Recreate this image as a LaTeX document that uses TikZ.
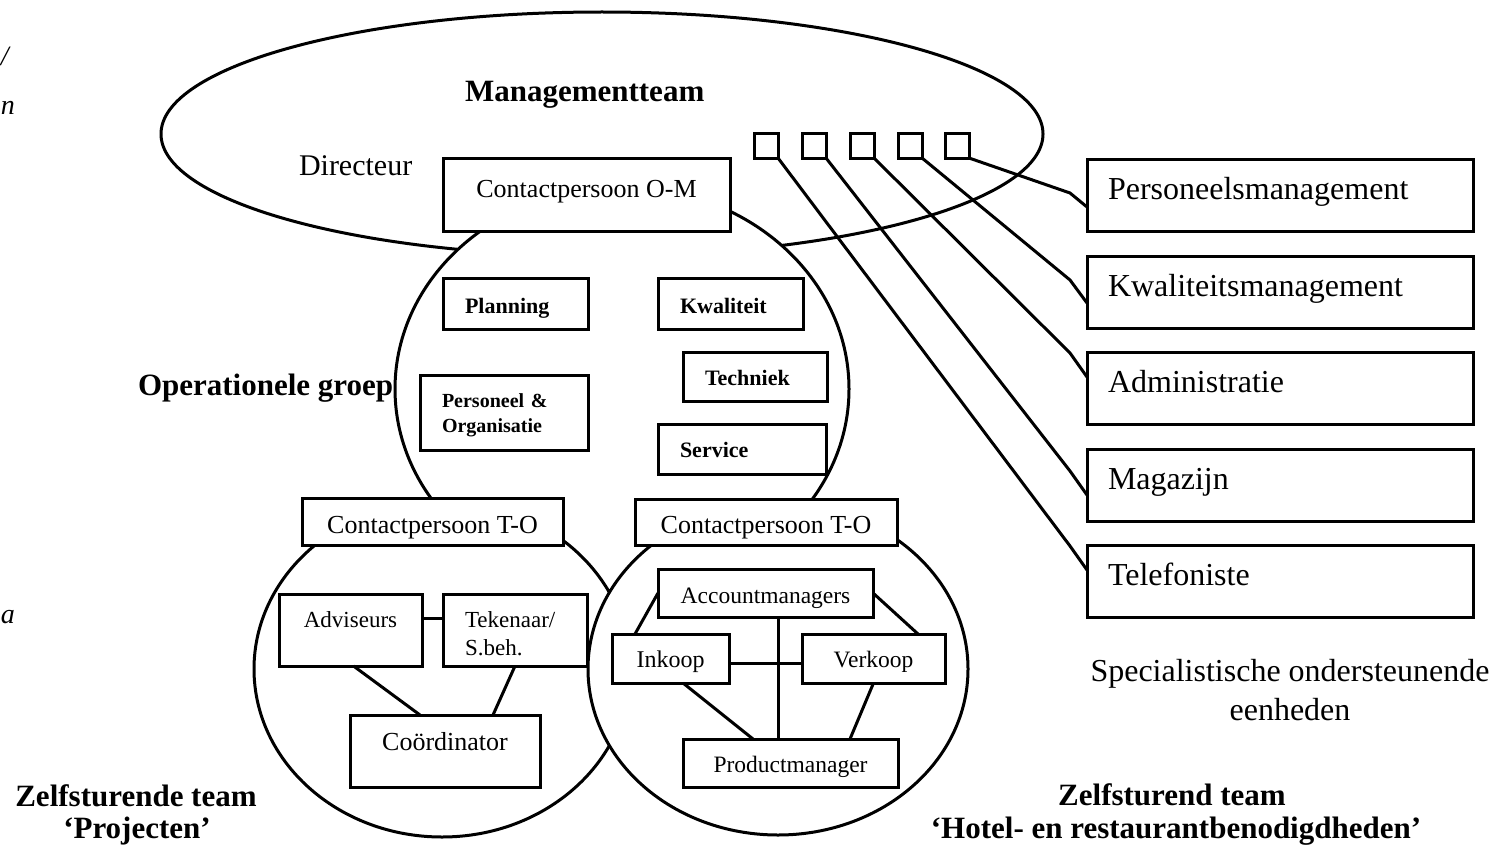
\documentclass[tikz,border=0pt]{standalone}
\usepackage{fontspec}
\setmainfont{Liberation Serif}
\usetikzlibrary{calc,shapes.geometric}

% type sizes used in the chart
\newcommand\sizeunit{\fontsize{32}{38}\selectfont}
\newcommand\sizetitle{\fontsize{31}{36}\selectfont\bfseries}
\newcommand\sizecontact{\fontsize{26}{31}\selectfont}
\newcommand\sizemember{\fontsize{23.5}{28}\selectfont}
\newcommand\sizefunc{\fontsize{22}{26}\selectfont\bfseries}

\begin{document}
\begin{tikzpicture}[x=1pt,y=-1pt,
  every node/.style={inner sep=0pt, outer sep=0pt},
  unit/.style={draw, fill=white, rectangle, line width=3pt},
  oval/.style={draw, fill=white, ellipse, line width=3pt},
  link/.style={line width=3pt, line join=round},
  tick/.style={unit, minimum width=24pt, minimum height=25pt},
  side/.style={unit, font=\sizeunit, minimum width=386pt, minimum height=72pt,
    text width=344pt, inner xsep=21pt, align=left, text height=40pt, text depth=32pt},
  func/.style={unit, font=\sizefunc, inner xsep=22pt, align=left},
  member/.style={unit, font=\sizemember},
  contact/.style={unit, font=\sizecontact},
  title/.style={font=\sizetitle},
  caption/.style={font=\sizeunit},
  frag/.style={font=\fontsize{28}{34}\selectfont\itshape},
]
\fill[white] (0,0) rectangle (1495,848);
\useasboundingbox (0,0) rectangle (1495,848);

% the four groups
\node[oval, minimum width=882pt, minimum height=244pt] (mt) at (602,134) {};
\node[oval, minimum width=454pt, minimum height=404pt] (og) at (622,389) {};
\node[oval, minimum width=376pt, minimum height=336pt] (zp) at (442,669) {};
\node[oval, minimum width=380pt, minimum height=332pt] (zh) at (778,669) {};

% management team
\node[title, anchor=base west] (mtt) at (465,102) {Managementteam};
\node[caption, font=\fontsize{30}{36}\selectfont, anchor=base west] (dir) at (299,175) {Directeur};
\node[contact, minimum width=287pt, minimum height=73pt, text height=39pt, text depth=34pt] (om) at (586.5,194.5) {Contactpersoon O-M};
\foreach \i/\x in {1/766,2/814,3/862,4/910,5/957}
  \node[tick] (s\i) at (\x,145.5) {};

% operational group
\node[func, text width=101pt, minimum height=51pt, text height=35pt, text depth=16pt] (pla) at (515.5,303.5) {Planning};
\node[func, text width=101pt, minimum height=51pt, text height=35pt, text depth=16pt] (kwl) at (730.5,303.5) {Kwaliteit};
\node[func, text width=100pt, minimum height=49pt, text height=33pt, text depth=16pt] (tec) at (755,376.5) {Techniek};
\node[func, font=\fontsize{20}{25}\selectfont\bfseries, text width=124pt, minimum height=75pt, text height=32pt, text depth=43pt] (peo) at (504,412.5) {Personeel \&\\Organisatie};
\node[func, text width=124pt, minimum height=50pt, text height=33pt, text depth=17pt] (ser) at (742,449) {Service};

% team Projecten
\node[contact, minimum width=261pt, minimum height=47pt, text height=35pt, text depth=12pt] (tol) at (432.5,521.5) {Contactpersoon T-O};
\node[member, font=\fontsize{23}{28}\selectfont, minimum width=143pt, minimum height=72pt, text height=33pt, text depth=39pt] (adv) at (350.5,630) {Adviseurs};
\node[member, font=\fontsize{23}{28}\selectfont, text width=100pt, inner xsep=22pt, align=left, minimum height=72pt, text height=33pt, text depth=39pt] (tek) at (515,630) {Tekenaar/\\S.beh.};
\node[contact, minimum width=190pt, minimum height=72pt, text height=35pt, text depth=37pt] (crd) at (445,751) {Coördinator};

% team Hotel- en restaurantbenodigdheden
\node[contact, minimum width=262pt, minimum height=46pt, text height=34pt, text depth=12pt] (tor) at (766,522) {Contactpersoon T-O};
\node[member, minimum width=215pt, minimum height=48pt, text height=34pt, text depth=14pt] (acc) at (765.5,593) {Accountmanagers};
\node[member, font=\fontsize{24}{28}\selectfont, minimum width=117pt, minimum height=49pt, text height=33pt, text depth=16pt] (ink) at (670.5,658.5) {Inkoop};
\node[member, minimum width=143pt, minimum height=49pt, text height=33pt, text depth=16pt] (ver) at (873.5,658.5) {Verkoop};
\node[member, minimum width=215pt, minimum height=48pt, text height=33pt, text depth=15pt] (prd) at (790.5,763) {Productmanager};

% supporting units
\node[side] (per) at (1280,195) {Personeelsmanagement};
\node[side] (kwm) at (1280,292) {Kwaliteitsmanagement};
\node[side] (adm) at (1280,388.5) {Administratie};
\node[side] (mag) at (1280,485) {Magazijn};
\node[side] (tel) at (1280,581.5) {Telefoniste};

% links inside the teams
\draw[link] ($(adv.east)+(0,-12)$) -- ($(tek.west)+(0,-12)$);
\draw[link] ($(adv.south)+(3,0)$) -- ($(crd.north)+(-25,0)$);
\draw[link] (tek.south) -- ($(crd.north)+(48,0)$);
\draw[link] ($(acc.south)+(12.5,0)$) -- ($(prd.north)+(-12.5,0)$);
\draw[link] ($(ink.east)+(0,4.5)$) -- ($(ver.west)+(0,4.5)$);
\draw[link] (acc.west) -- ($(ink.north)+(-35.5,0)$);
\draw[link] (acc.east) -- ($(ver.north)+(44.5,0)$);
\draw[link] ($(ink.south)+(12.5,0)$) -- ($(prd.north)+(-37.5,0)$);
\draw[link] (ver.south) -- ($(prd.north)+(59.5,0)$);

% management seats to the supporting units
\draw[link] (s5.south east) -- ($(per.west)+(-17,-2)$) -- ($(per.west)+(0,12)$);
\draw[link] (s4.south east) -- ($(kwm.west)+(-17,-12)$) -- ($(kwm.west)+(0,11)$);
\draw[link] (s3.south east) -- ($(adm.west)+(-17,-35.5)$) -- ($(adm.west)+(0,-11.5)$);
\draw[link] (s2.south east) -- ($(mag.west)+(-17,-14)$) -- ($(mag.west)+(0,10)$);
\draw[link] (s1.south east) -- ($(tel.west)+(-17,-35.5)$) -- ($(tel.west)+(0,-11.5)$);

% group titles
\node[title, anchor=base west] (opg) at (138,395) {Operationele groep};
\node[title, anchor=base] (zpt) at (136,806) {Zelfsturende team};
\node[title, anchor=base] (zpn) at (137,838) {‘Projecten’};
\node[title, anchor=base] (zht) at (1172,805) {Zelfsturend team};
\node[title, anchor=base] (zhn) at (1176,838) {‘Hotel- en restaurantbenodigdheden’};
\node[caption, anchor=base] (sou) at (1290,681) {Specialistische ondersteunende};
\node[caption, anchor=base] (sou2) at (1290,720) {eenheden};

% margin text at the page edge
\node[frag, anchor=base west] (f1) at (1,66) {/};
\node[frag, anchor=base west] (f2) at (1,115) {n};
\node[frag, anchor=base west] (f3) at (1,623) {a};
\end{tikzpicture}
\end{document}
